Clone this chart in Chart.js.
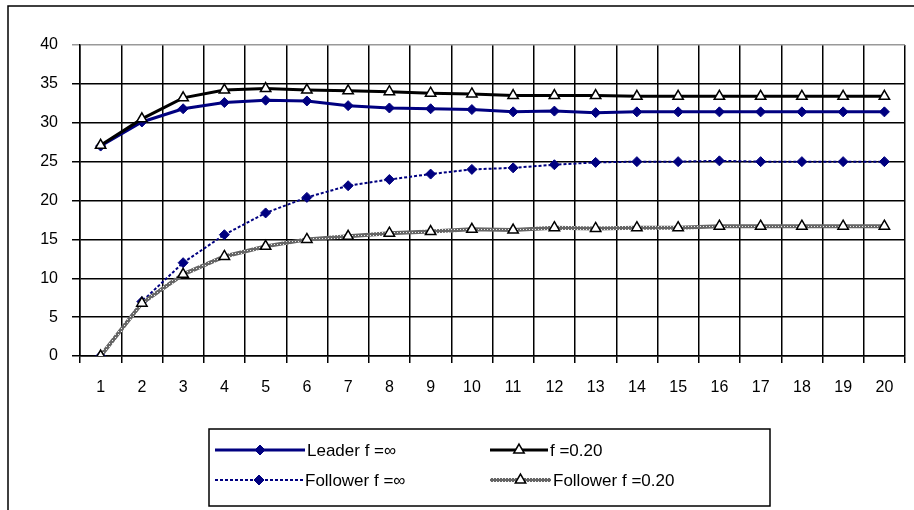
<!DOCTYPE html>
<html>
<head>
<meta charset="utf-8">
<script src="https://cdn.jsdelivr.net/npm/chart.js@4.4.1/dist/chart.umd.min.js"></script>
<style>
  body { margin: 0; background: #fff; }
  canvas { display: block; }
</style>
</head>
<body>
<canvas id="grafico" width="914" height="510"></canvas>
<script>
const categories = ['1','2','3','4','5','6','7','8','9','10','11','12','13','14','15','16','17','18','19','20'];
const leaderInf   = [27, 30.1, 31.8, 32.6, 32.9, 32.8, 32.2, 31.9, 31.8, 31.7, 31.4, 31.5, 31.3, 31.4, 31.4, 31.4, 31.4, 31.4, 31.4, 31.4];
const leader020   = [27.1, 30.5, 33.2, 34.2, 34.4, 34.2, 34.1, 34.0, 33.8, 33.7, 33.5, 33.5, 33.5, 33.4, 33.4, 33.4, 33.4, 33.4, 33.4, 33.4];
const followerInf = [0, 7.0, 12.0, 15.6, 18.4, 20.4, 21.9, 22.7, 23.4, 24.0, 24.2, 24.6, 24.9, 25.0, 25.0, 25.1, 25.0, 25.0, 25.0, 25.0];
const follower020 = [0, 6.8, 10.5, 12.8, 14.1, 15.0, 15.4, 15.8, 16.0, 16.3, 16.2, 16.5, 16.4, 16.5, 16.5, 16.7, 16.7, 16.7, 16.7, 16.7];
const yTicks = [0, 5, 10, 15, 20, 25, 30, 35, 40];

// chain-like grey pattern for the last series
const pc = document.createElement('canvas');
pc.width = 3; pc.height = 3;
const px = pc.getContext('2d');
px.fillStyle = '#666'; px.fillRect(0, 0, 3, 3);
px.fillStyle = '#eee'; px.fillRect(1, 1, 1, 1);
const chain = px.createPattern(pc, 'repeat');

Chart.defaults.font.family = '"Liberation Sans", Arial, sans-serif';
Chart.defaults.font.size = 16;
Chart.defaults.color = '#000';

// outer frame + legend box drawn by hand (Excel style)
const frameAndLegend = {
  id: 'frameAndLegend',
  afterDraw(chart) {
    const c = chart.ctx;
    c.save();
    c.strokeStyle = '#000';
    c.lineWidth = 1.5;
    c.beginPath();
    c.moveTo(8, 520); c.lineTo(8, 6); c.lineTo(920, 6);
    c.stroke();
    c.strokeRect(209, 429, 561, 77);

    const items = [
      { ds: 0, x1: 215, x2: 305, y: 450 },
      { ds: 1, x1: 490, x2: 548, y: 450 },
      { ds: 2, x1: 215, x2: 303, y: 480 },
      { ds: 3, x1: 490, x2: 551, y: 480 }
    ];
    c.font = '17px "Liberation Sans", Arial, sans-serif';
    c.textBaseline = 'middle';
    items.forEach(it => {
      const d = chart.data.datasets[it.ds];
      c.save();
      c.strokeStyle = d.borderColor;
      c.lineWidth = d.borderWidth;
      c.setLineDash(d.borderDash || []);
      c.beginPath(); c.moveTo(it.x1, it.y); c.lineTo(it.x2, it.y); c.stroke();
      c.restore();
      c.fillStyle = d.pointBackgroundColor;
      c.strokeStyle = d.pointBorderColor;
      c.lineWidth = d.pointBorderWidth;
      Chart.helpers.drawPoint(c, { pointStyle: d.pointStyle, radius: d.pointRadius, borderWidth: d.pointBorderWidth }, (it.x1 + it.x2) / 2, it.y);
      c.fillStyle = '#000';
      c.fillText(d.label, it.x2 + 2, it.y + 1);
    });
    c.restore();
  }
};

new Chart(document.getElementById('grafico'), {
  type: 'line',
  data: {
    labels: categories,
    datasets: [{
      label: 'Leader f =∞',
      data: leaderInf,
      borderColor: '#000080',
      borderWidth: 3,
      pointStyle: 'rectRot',
      pointRadius: 5,
      pointBackgroundColor: '#000080',
      pointBorderColor: '#000080',
      pointBorderWidth: 1,
      order: 4
    }, {
      label: 'f =0.20',
      data: leader020,
      borderColor: '#000',
      borderWidth: 3,
      pointStyle: 'triangle',
      pointRadius: 6,
      pointBackgroundColor: '#fff',
      pointBorderColor: '#000',
      pointBorderWidth: 1.5,
      order: 3
    }, {
      label: 'Follower f =∞',
      data: followerInf,
      borderColor: '#000080',
      borderWidth: 2,
      borderDash: [3, 2],
      pointStyle: 'rectRot',
      pointRadius: 5,
      pointBackgroundColor: '#000080',
      pointBorderColor: '#000080',
      pointBorderWidth: 1,
      order: 2
    }, {
      label: 'Follower f =0.20',
      data: follower020,
      borderColor: chain,
      borderWidth: 4,
      pointStyle: 'triangle',
      pointRadius: 6,
      pointBackgroundColor: '#fff',
      pointBorderColor: '#000',
      pointBorderWidth: 1.5,
      order: 1
    }]
  },
  options: {
    responsive: false,
    animation: false,
    tension: 0,
    layout: { padding: { left: 0, right: 9, top: 45, bottom: 0 } },
    plugins: {
      legend: { display: false },
      tooltip: { enabled: false }
    },
    scales: {
      x: {
        offset: true,
        grid: {
          offset: true,
          color: ctx => ctx.index === categories.length ? '#999' : '#000',
          lineWidth: 1.5,
          tickLength: 7
        },
        border: { color: '#000', width: 1.5 },
        ticks: { padding: 15, maxRotation: 0, autoSkip: false },
        afterFit: s => { s.height = 154; }
      },
      y: {
        min: 0,
        max: 40,
        afterBuildTicks: s => { s.ticks = yTicks.map(v => ({ value: v })); },
        grid: {
          color: ctx => ctx.tick && ctx.tick.value === 40 ? '#999' : '#000',
          lineWidth: 1.5,
          tickLength: 8
        },
        border: { color: '#000', width: 1.5 },
        ticks: { padding: 14 },
        afterFit: s => { s.width = 80; }
      }
    }
  },
  plugins: [frameAndLegend]
});
</script>
</body>
</html>
